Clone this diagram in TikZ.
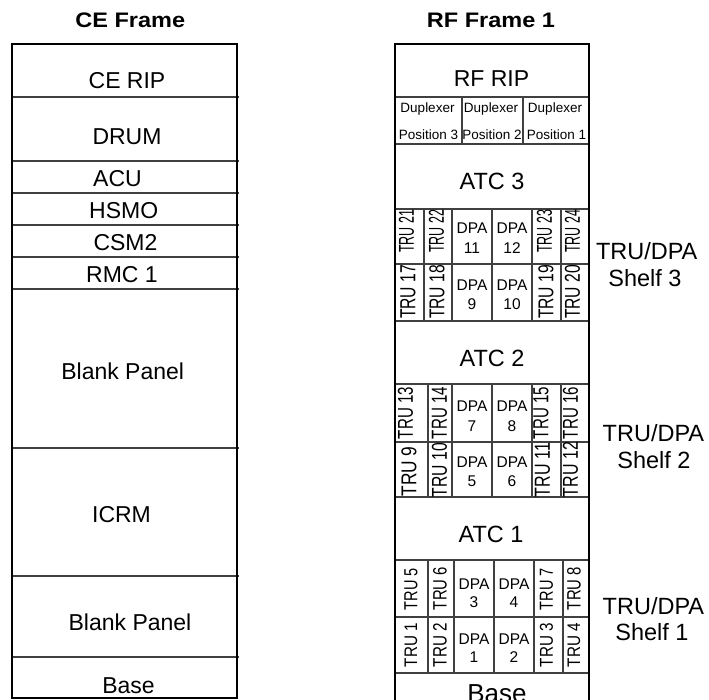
\documentclass[tikz,border=0pt]{standalone}
\usepackage{fontspec}
\usepackage{graphicx}
\setmainfont{Liberation Sans}
\tikzset{
  frameline/.style={draw=black, line width=2pt},
  innerline/.style={draw=black!75, line width=1.1pt},
  lbl/.style={inner sep=0pt, anchor=base, font=\fontsize{23}{27}\selectfont},
  atclbl/.style={inner sep=0pt, anchor=base, font=\fontsize{23.5}{27}\selectfont},
  titlelbl/.style={inner sep=0pt, anchor=base, font=\bfseries\fontsize{21}{25}\selectfont},
  duplbl/.style={inner sep=0pt, anchor=base, font=\fontsize{13.5}{16}\selectfont},
  dpalbl/.style={inner sep=0pt, anchor=base, font=\fontsize{15.5}{18}\selectfont},
  shelflbl/.style={inner sep=0pt, anchor=base, font=\fontsize{23.5}{27}\selectfont},
  trulbl/.style={inner sep=0pt, rotate=90, anchor=center}
}
\newcommand{\trutext}[3]{\resizebox{#1pt}{#2pt}{#3}}
\begin{document}
\begin{tikzpicture}[x=1pt,y=-1pt]
\useasboundingbox (0,0) rectangle (709,700);
\clip (0,0) rectangle (709,700);

% ---------- titles ----------
\node[titlelbl] (ceTitle) at (130.3,27.3) {\scalebox{1.12}[1]{CE Frame}};
\node[titlelbl] (rfTitle) at (491,27.3) {\scalebox{1.12}[1]{RF Frame 1}};

% ---------- CE frame ----------
\foreach \yy in {97,161,193,225,257,289,448,576,657}
  \draw[innerline] (12,\yy) -- (239,\yy);
\draw[frameline] (12,44) rectangle (237,698);

\node[lbl] (ceRip)   at (127,88.3)  {CE RIP};
\node[lbl] (drum)    at (127,145)   {DRUM};
\node[lbl] (acu)     at (117.5,186.7) {ACU};
\node[lbl] (hsmo)    at (123.7,218.3) {HSMO};
\node[lbl] (csm)     at (125.5,250.7) {CSM2};
\node[lbl] (rmc)     at (122,282.7) {RMC 1};
\node[lbl] (blankA)  at (122.7,379.3) {Blank Panel};
\node[lbl] (icrm)    at (121.5,522.7) {ICRM};
\node[lbl] (blankB)  at (130,630) {Blank Panel};
\node[lbl] (ceBase)  at (128.5,693) {Base};

% ---------- RF frame ----------
\foreach \yy in {97,144,209,264,321,384,442,497,560,617,673}
  \draw[innerline] (395,\yy) -- (589,\yy);
% duplexer dividers
\draw[innerline] (462,97) -- (462,144);
\draw[innerline] (523,97) -- (523,144);
% shelf 3 dividers
\foreach \xx in {424,452,492,532,561}
  \draw[innerline] (\xx,209) -- (\xx,321);
% shelf 2 dividers
\foreach \xx in {428,452,492,532,561}
  \draw[innerline] (\xx,384) -- (\xx,497);
% shelf 1 dividers
\foreach \xx in {428,454,494,534,563}
  \draw[innerline] (\xx,560) -- (\xx,673);
\draw[frameline] (395,705) -- (395,44) -- (589,44) -- (589,705);

\node[lbl] (rfRip) at (491.5,86.3) {RF RIP};
\node[duplbl] (dupA) at (427.5,112.7) {Duplexer};
\node[duplbl] (dupB) at (491,112.7) {Duplexer};
\node[duplbl] (dupC) at (555,112.7) {Duplexer};
\node[duplbl] (posA) at (428.5,139.3) {Position 3};
\node[duplbl] (posB) at (492,139.3) {Position 2};
\node[duplbl] (posC) at (556.5,139.3) {Position 1};

\node[atclbl] (atc3) at (492,190) {ATC 3};
\node[atclbl] (atc2) at (492,366.7) {ATC 2};
\node[atclbl] (atc1) at (491,542.3) {ATC 1};
\node[inner sep=0pt, anchor=base, font=\fontsize{26}{30}\selectfont] (rfBase) at (497,702) {Base};

% DPA labels
\node[dpalbl] (dpa11) at (472,233.3) {DPA};  \node[dpalbl] (dpa11n) at (472,254) {11};
\node[dpalbl] (dpa12) at (512,233.3) {DPA};  \node[dpalbl] (dpa12n) at (512,254) {12};
\node[dpalbl] (dpa9)  at (472,291)   {DPA};  \node[dpalbl] (dpa9n)  at (472,310) {9};
\node[dpalbl] (dpa10) at (512,291)   {DPA};  \node[dpalbl] (dpa10n) at (512,310) {10};
\node[dpalbl] (dpa7)  at (472,411.7) {DPA};  \node[dpalbl] (dpa7n)  at (472,431) {7};
\node[dpalbl] (dpa8)  at (512,411.7) {DPA};  \node[dpalbl] (dpa8n)  at (512,431) {8};
\node[dpalbl] (dpa5)  at (472,467.7) {DPA};  \node[dpalbl] (dpa5n)  at (472,486.7) {5};
\node[dpalbl] (dpa6)  at (512,467.7) {DPA};  \node[dpalbl] (dpa6n)  at (512,486.7) {6};
\node[dpalbl] (dpa3)  at (474,589.3) {DPA};  \node[dpalbl] (dpa3n)  at (474,607) {3};
\node[dpalbl] (dpa4)  at (514,589.3) {DPA};  \node[dpalbl] (dpa4n)  at (514,607) {4};
\node[dpalbl] (dpa1)  at (474,644)   {DPA};  \node[dpalbl] (dpa1n)  at (474,662) {1};
\node[dpalbl] (dpa2)  at (514,644)   {DPA};  \node[dpalbl] (dpa2n)  at (514,662) {2};

% TRU labels, shelf 3
\node[trulbl] (tru21) at (406.5,231.5) {\trutext{43}{15}{TRU 21}};
\node[trulbl] (tru22) at (436.5,231.5) {\trutext{43}{15}{TRU 22}};
\node[trulbl] (tru23) at (544.5,231.5) {\trutext{43}{15}{TRU 23}};
\node[trulbl] (tru24) at (572.5,231.5) {\trutext{43}{15}{TRU 24}};
\node[trulbl] (tru17) at (408,292) {\trutext{54}{15}{TRU 17}};
\node[trulbl] (tru18) at (437,292) {\trutext{54}{15}{TRU 18}};
\node[trulbl] (tru19) at (546,292) {\trutext{54}{15}{TRU 19}};
\node[trulbl] (tru20) at (572.5,292) {\trutext{54}{15}{TRU 20}};
% shelf 2
\node[trulbl] (tru13) at (405.5,413) {\trutext{52}{15}{TRU 13}};
\node[trulbl] (tru14) at (439.5,413) {\trutext{52}{15}{TRU 14}};
\node[trulbl] (tru15) at (541,413) {\trutext{52}{15}{TRU 15}};
\node[trulbl] (tru16) at (570.5,413) {\trutext{52}{15}{TRU 16}};
\node[trulbl] (tru9)  at (409,471.5) {\trutext{50}{15}{TRU 9}};
\node[trulbl] (tru10) at (439.5,470) {\trutext{54}{15}{TRU 10}};
\node[trulbl] (tru11) at (542.5,470) {\trutext{54}{15}{TRU 11}};
\node[trulbl] (tru12) at (570.5,469.5) {\trutext{55}{15}{TRU 12}};
% shelf 1
\node[trulbl] (tru5) at (411,589) {\trutext{42}{13}{TRU 5}};
\node[trulbl] (tru6) at (440,588.5) {\trutext{43}{13.5}{TRU 6}};
\node[trulbl] (tru7) at (546.5,589) {\trutext{42}{13}{TRU 7}};
\node[trulbl] (tru8) at (574,588.5) {\trutext{43}{13.5}{TRU 8}};
\node[trulbl] (tru1) at (411,645) {\trutext{44}{12.5}{TRU 1}};
\node[trulbl] (tru2) at (440,645) {\trutext{44}{13.5}{TRU 2}};
\node[trulbl] (tru3) at (546.5,645) {\trutext{44}{13}{TRU 3}};
\node[trulbl] (tru4) at (574,645) {\trutext{44}{12.5}{TRU 4}};

% shelf labels
\node[shelflbl] (s3a) at (646.7,259.3) {TRU/DPA};
\node[shelflbl] (s3b) at (645,287)     {Shelf 3};
\node[shelflbl] (s2a) at (653.4,441.7) {TRU/DPA};
\node[shelflbl] (s2b) at (654,468)     {Shelf 2};
\node[shelflbl] (s1a) at (653.4,614)   {TRU/DPA};
\node[shelflbl] (s1b) at (652,640)     {Shelf 1};
\end{tikzpicture}
\end{document}
